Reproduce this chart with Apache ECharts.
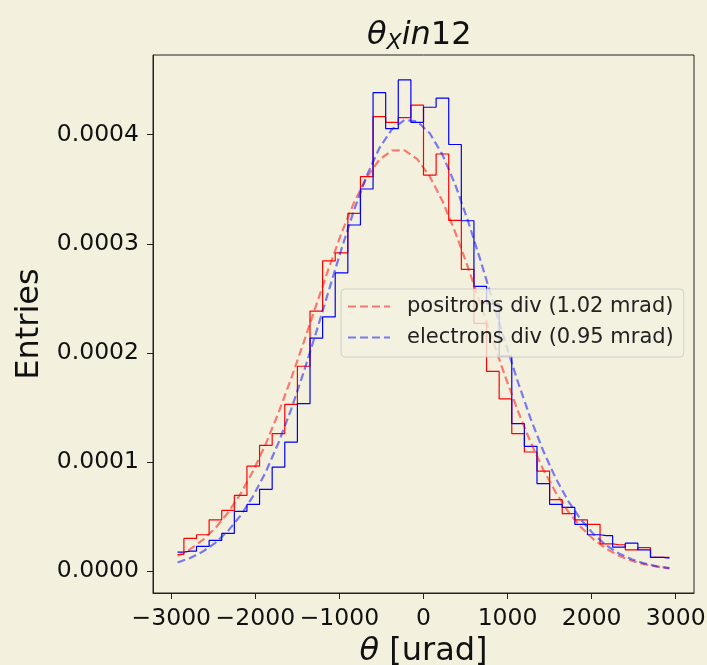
<!DOCTYPE html>
<html>
<head>
<meta charset="utf-8">
<script src="https://cdn.jsdelivr.net/npm/echarts@6/dist/echarts.min.js"></script>
<style>
  html, body { margin: 0; padding: 0; background: #f3f1de; }
  #chart { width: 707px; height: 665px; }
</style>
</head>
<body>
<div id="chart"></div>
<script>
// bin centres [urad]
const binCenters = [
  -2925, -2775, -2625, -2475, -2325, -2175, -2025, -1875, -1725, -1575,
  -1425, -1275, -1125, -975, -825, -675, -525, -375, -225, -75,
  75, 225, 375, 525, 675, 825, 975, 1125, 1275, 1425,
  1575, 1725, 1875, 2025, 2175, 2325, 2475, 2625, 2775, 2925
];

// normalised histogram, positrons (red steps)
const positronHist = [
  1.53e-5, 3.00e-5, 3.34e-5, 4.71e-5, 5.57e-5, 6.94e-5, 9.63e-5, 1.153e-4, 1.260e-4, 1.529e-4,
  1.878e-4, 2.383e-4, 2.844e-4, 2.917e-4, 3.279e-4, 3.615e-4, 4.165e-4, 4.113e-4, 4.156e-4, 4.270e-4,
  3.630e-4, 3.823e-4, 3.214e-4, 2.766e-4, 2.270e-4, 1.830e-4, 1.578e-4, 1.260e-4, 1.092e-4, 9.17e-5,
  6.55e-5, 5.27e-5, 4.71e-5, 4.28e-5, 2.51e-5, 2.42e-5, 1.96e-5, 2.15e-5, 1.26e-5, 1.26e-5
];

// normalised histogram, electrons (blue steps)
const electronHist = [
  1.74e-5, 1.84e-5, 2.27e-5, 2.82e-5, 3.46e-5, 5.48e-5, 6.12e-5, 7.50e-5, 9.54e-5, 1.183e-4,
  1.535e-4, 2.135e-4, 2.330e-4, 2.734e-4, 3.172e-4, 3.502e-4, 4.385e-4, 4.055e-4, 4.502e-4, 4.113e-4,
  4.251e-4, 4.334e-4, 3.910e-4, 3.211e-4, 2.610e-4, 2.450e-4, 1.970e-4, 1.352e-4, 1.144e-4, 8.02e-5,
  6.12e-5, 5.84e-5, 4.28e-5, 3.34e-5, 3.25e-5, 2.20e-5, 2.57e-5, 1.96e-5, 1.26e-5, 1.20e-5
];

// fitted curves
const positronFit = [
  1.40e-5, 2.02e-5, 2.86e-5, 3.96e-5, 5.36e-5, 7.10e-5, 9.21e-5, 1.168e-4, 1.451e-4, 1.764e-4,
  2.097e-4, 2.441e-4, 2.781e-4, 3.100e-4, 3.381e-4, 3.609e-4, 3.771e-4, 3.855e-4, 3.856e-4, 3.776e-4,
  3.617e-4, 3.392e-4, 3.112e-4, 2.794e-4, 2.455e-4, 2.111e-4, 1.777e-4, 1.463e-4, 1.179e-4, 9.30e-5,
  7.18e-5, 5.42e-5, 4.01e-5, 2.90e-5, 2.05e-5, 1.42e-5, 9.6e-6, 6.4e-6, 4.2e-6, 2.6e-6
];
const electronFit = [
  7.96e-6, 1.21e-5, 1.80e-5, 2.60e-5, 3.69e-5, 5.11e-5, 6.90e-5, 9.11e-5, 1.176e-4, 1.481e-4,
  1.823e-4, 2.193e-4, 2.575e-4, 2.955e-4, 3.311e-4, 3.625e-4, 3.877e-4, 4.050e-4, 4.134e-4, 4.121e-4,
  4.013e-4, 3.817e-4, 3.547e-4, 3.220e-4, 2.855e-4, 2.473e-4, 2.092e-4, 1.729e-4, 1.396e-4, 1.101e-4,
  8.48e-5, 6.38e-5, 4.69e-5, 3.37e-5, 2.36e-5, 1.62e-5, 1.09e-5, 7.1e-6, 4.5e-6, 2.8e-6
];

const xTicks = [-3000, -2000, -1000, 0, 1000, 2000, 3000];
const yTicks = [0, 0.0001, 0.0002, 0.0003, 0.0004];
const legendNames = ['positrons div (1.02 mrad)', 'electrons div (0.95 mrad)'];

const FONT = 'DejaVu Sans';
const INK = '#111';

const pairs = ys => binCenters.map((x, i) => [x, ys[i]]);

const chart = echarts.init(document.getElementById('chart'));

// shared rich style for the mathtext-like pieces
const mathText = (size, italic, extra) => Object.assign({
  fontFamily: FONT, fontSize: size, fontWeight: 'normal',
  fontStyle: italic ? 'italic' : 'normal', color: INK
}, extra || {});

chart.setOption({
  backgroundColor: '#f3f1de',
  animation: false,
  title: {
    text: '{a|θ}{b|X}{c|in}{d|12}',
    left: 367,
    top: 20,
    padding: 0,
    textStyle: {
      fontWeight: 'normal',
      rich: {
        a: mathText(32, true, { verticalAlign: 'top', lineHeight: 34 }),
        b: mathText(22, true, { verticalAlign: 'bottom', lineHeight: 22, padding: [13, 0, 0, 0] }),
        c: mathText(32, true, { verticalAlign: 'top', lineHeight: 34 }),
        d: mathText(32, false, { verticalAlign: 'top', lineHeight: 34 })
      }
    }
  },
  grid: {
    left: 153, right: 13, top: 55, bottom: 72,
    outerBoundsMode: 'none',
    show: true,
    borderColor: '#222',
    borderWidth: 1,
    backgroundColor: 'transparent'
  },
  legend: {
    data: legendNames,
    orient: 'vertical',
    left: 341,
    top: 289,
    itemWidth: 42,
    itemHeight: 14,
    itemGap: 10,
    padding: [7, 10, 9, 6],
    backgroundColor: 'rgba(243,241,222,0.8)',
    borderColor: 'rgba(200,200,200,0.8)',
    borderWidth: 1,
    borderRadius: 4,
    itemStyle: { opacity: 0, borderWidth: 0 },
    textStyle: { fontFamily: FONT, fontSize: 21, color: '#222', padding: [0, 0, 0, 12] }
  },
  xAxis: {
    type: 'value',
    min: -3217.5,
    max: 3217.5,
    name: '{i|θ} [urad]',
    nameLocation: 'middle',
    nameGap: 43,
    nameTextStyle: {
      fontFamily: FONT, fontSize: 32, color: INK,
      rich: { i: mathText(32, true) }
    },
    axisLine: { show: true, onZero: false, lineStyle: { color: '#222', width: 1 } },
    axisTick: { show: true, customValues: xTicks, length: 6, lineStyle: { color: '#222' } },
    axisLabel: {
      customValues: xTicks,
      margin: 14,
      fontFamily: FONT, fontSize: 23.5, color: INK,
      formatter: v => (v < 0 ? '\u2212' + Math.abs(v) : String(v))
    },
    splitLine: { show: false }
  },
  yAxis: {
    type: 'value',
    min: -2.0e-5,
    max: 4.73e-4,
    name: 'Entries',
    nameLocation: 'middle',
    nameGap: 92,
    nameTextStyle: { fontFamily: FONT, fontSize: 32, color: INK },
    axisLine: { show: true, onZero: false, lineStyle: { color: '#222', width: 1 } },
    axisTick: { show: true, customValues: yTicks, length: 6, lineStyle: { color: '#222' } },
    axisLabel: {
      customValues: yTicks,
      margin: 14,
      fontFamily: FONT, fontSize: 23.5, color: INK,
      formatter: v => v.toFixed(4)
    },
    splitLine: { show: false }
  },
  series: [
    {
      name: 'positrons hist',
      type: 'line',
      step: 'middle',
      symbol: 'none',
      data: pairs(positronHist),
      lineStyle: { color: '#ff0000', width: 1.2 },
      itemStyle: { color: '#ff0000' },
      z: 2
    },
    {
      name: legendNames[0],
      type: 'line',
      symbol: 'none',
      data: pairs(positronFit),
      lineStyle: { color: 'rgba(255,0,0,0.5)', width: 2.2, type: [8, 4] },
      itemStyle: { color: 'rgba(255,0,0,0.5)' },
      z: 3
    },
    {
      name: 'electrons hist',
      type: 'line',
      step: 'middle',
      symbol: 'none',
      data: pairs(electronHist),
      lineStyle: { color: '#0000ff', width: 1.2 },
      itemStyle: { color: '#0000ff' },
      z: 2
    },
    {
      name: legendNames[1],
      type: 'line',
      symbol: 'none',
      data: pairs(electronFit),
      lineStyle: { color: 'rgba(0,0,255,0.5)', width: 2.2, type: [8, 4] },
      itemStyle: { color: 'rgba(0,0,255,0.5)' },
      z: 3
    }
  ]
});
</script>
</body>
</html>
